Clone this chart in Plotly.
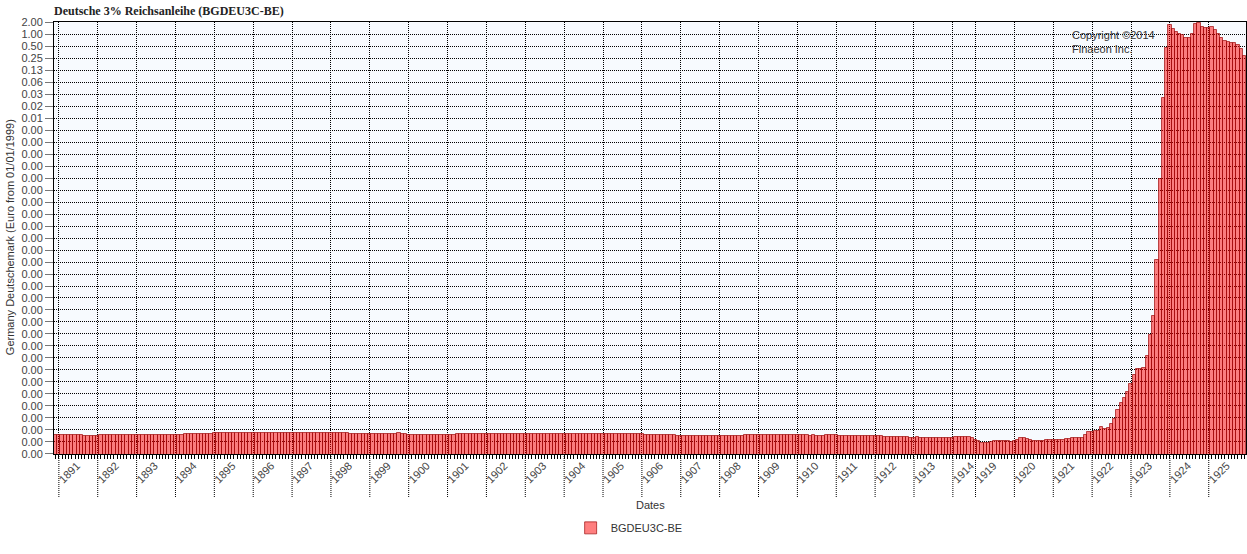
import math
import plotly.graph_objects as go

title = "Deutsche 3% Reichsanleihe (BGDEU3C-BE)"
series_name = "BGDEU3C-BE"
y_title = "Germany Deutschemark (Euro from 01/01/1999)"
x_title = "Dates"
copyright_text = "Copyright ©2014<br>Finaeon Inc."

# Monthly observations: Dec 1890 - Jul 1914, then Jan 1919 - Dec 1925 (no quotes during WWI)
periods = ([(1890, [12])]
           + [(y, list(range(1, 13))) for y in range(1891, 1914)]
           + [(1914, list(range(1, 8)))]
           + [(y, list(range(1, 13))) for y in range(1919, 1926)])
months = [f"{y}-{m:02d}" for y, ms in periods for m in ms]

price = [
    8.70e-11,  # 1890-12
    8.70e-11, 8.70e-11, 8.72e-11, 8.70e-11, 8.70e-11, 8.68e-11, 8.70e-11, 8.50e-11, 8.10e-11, 8.06e-11, 8.06e-11, 8.10e-11,  # 1891
    8.40e-11, 8.60e-11, 8.70e-11, 8.70e-11, 8.72e-11, 8.70e-11, 8.70e-11, 8.72e-11, 8.70e-11, 8.70e-11, 8.72e-11, 8.72e-11,  # 1892
    8.72e-11, 8.75e-11, 8.72e-11, 8.70e-11, 8.72e-11, 8.75e-11, 8.72e-11, 8.70e-11, 8.72e-11, 8.75e-11, 8.72e-11, 8.72e-11,  # 1893
    8.72e-11, 8.75e-11, 8.80e-11, 9.20e-11, 9.26e-11, 9.26e-11, 9.28e-11, 9.26e-11, 9.26e-11, 9.30e-11, 9.26e-11, 9.40e-11,  # 1894
    9.70e-11, 9.79e-11, 9.79e-11, 9.82e-11, 9.79e-11, 9.79e-11, 9.80e-11, 9.79e-11, 9.79e-11, 9.82e-11, 9.79e-11, 9.79e-11,  # 1895
    9.79e-11, 9.80e-11, 9.79e-11, 9.79e-11, 9.82e-11, 9.79e-11, 9.79e-11, 9.80e-11, 9.79e-11, 9.79e-11, 9.82e-11, 9.79e-11,  # 1896
    9.80e-11, 9.79e-11, 9.82e-11, 9.79e-11, 9.79e-11, 9.80e-11, 9.79e-11, 9.82e-11, 9.79e-11, 9.80e-11, 9.79e-11, 9.70e-11,  # 1897
    9.60e-11, 9.65e-11, 9.79e-11, 9.75e-11, 9.60e-11, 9.55e-11, 9.50e-11, 9.50e-11, 9.45e-11, 9.40e-11, 9.35e-11, 9.30e-11,  # 1898
    9.26e-11, 9.26e-11, 9.28e-11, 9.26e-11, 9.26e-11, 9.24e-11, 9.26e-11, 9.30e-11, 9.50e-11, 9.75e-11, 9.30e-11, 9.00e-11,  # 1899
    8.75e-11, 8.70e-11, 8.70e-11, 8.72e-11, 8.70e-11, 8.70e-11, 8.72e-11, 8.70e-11, 8.70e-11, 8.72e-11, 8.70e-11, 8.70e-11,  # 1900
    8.80e-11, 8.80e-11, 8.85e-11, 9.20e-11, 9.26e-11, 9.30e-11, 9.26e-11, 9.26e-11, 9.22e-11, 9.26e-11, 9.26e-11, 9.30e-11,  # 1901
    9.30e-11, 9.26e-11, 9.26e-11, 9.28e-11, 9.26e-11, 9.26e-11, 9.30e-11, 9.26e-11, 9.24e-11, 9.26e-11, 9.26e-11, 9.20e-11,  # 1902
    9.10e-11, 9.07e-11, 9.07e-11, 9.15e-11, 9.07e-11, 9.10e-11, 9.07e-11, 9.20e-11, 9.26e-11, 9.10e-11, 9.07e-11, 9.20e-11,  # 1903
    9.26e-11, 9.15e-11, 9.26e-11, 9.10e-11, 9.20e-11, 9.26e-11, 9.10e-11, 9.05e-11, 9.20e-11, 9.15e-11, 9.05e-11, 9.10e-11,  # 1904
    9.20e-11, 9.26e-11, 9.26e-11, 9.20e-11, 9.26e-11, 9.20e-11, 9.15e-11, 9.20e-11, 9.26e-11, 9.20e-11, 9.10e-11, 9.05e-11,  # 1905
    9.00e-11, 8.90e-11, 8.80e-11, 8.75e-11, 8.70e-11, 8.72e-11, 8.70e-11, 8.70e-11, 8.65e-11, 8.70e-11, 8.60e-11, 8.40e-11,  # 1906
    8.10e-11, 8.06e-11, 8.06e-11, 8.06e-11, 8.10e-11, 8.06e-11, 8.06e-11, 8.04e-11, 8.06e-11, 8.06e-11, 8.02e-11, 8.00e-11,  # 1907
    8.00e-11, 8.02e-11, 8.00e-11, 8.04e-11, 8.06e-11, 8.06e-11, 8.10e-11, 8.30e-11, 8.60e-11, 8.70e-11, 8.70e-11, 8.72e-11,  # 1908
    8.70e-11, 8.72e-11, 8.70e-11, 8.75e-11, 8.70e-11, 8.60e-11, 8.55e-11, 8.60e-11, 8.50e-11, 8.55e-11, 8.50e-11, 8.52e-11,  # 1909
    8.52e-11, 8.55e-11, 8.60e-11, 8.52e-11, 8.45e-11, 8.52e-11, 8.45e-11, 8.40e-11, 8.45e-11, 8.50e-11, 8.70e-11, 8.80e-11,  # 1910
    8.60e-11, 8.30e-11, 8.23e-11, 8.23e-11, 8.25e-11, 8.23e-11, 8.23e-11, 8.20e-11, 8.23e-11, 8.23e-11, 8.20e-11, 8.23e-11,  # 1911
    8.23e-11, 8.25e-11, 8.10e-11, 7.70e-11, 7.68e-11, 7.68e-11, 7.65e-11, 7.68e-11, 7.68e-11, 7.68e-11, 7.60e-11, 7.50e-11,  # 1912
    7.50e-11, 7.60e-11, 7.40e-11, 7.22e-11, 7.22e-11, 7.25e-11, 7.22e-11, 7.22e-11, 7.20e-11, 7.22e-11, 7.25e-11, 7.30e-11,  # 1913
    7.50e-11, 7.60e-11, 7.70e-11, 7.65e-11, 7.60e-11, 7.60e-11, 7.50e-11,  # 1914 (Jan-Jul)
    6.55e-11, 6.00e-11, 5.62e-11, 5.55e-11, 5.60e-11, 5.75e-11, 6.00e-11, 6.15e-11, 6.15e-11, 6.15e-11, 6.05e-11, 5.95e-11,  # 1919
    6.00e-11, 6.70e-11, 7.22e-11, 7.25e-11, 7.00e-11, 6.60e-11, 6.20e-11, 6.15e-11, 6.15e-11, 6.30e-11, 6.55e-11, 6.55e-11,  # 1920
    6.60e-11, 6.68e-11, 6.70e-11, 6.68e-11, 6.80e-11, 6.90e-11, 7.30e-11, 7.47e-11, 7.47e-11, 7.50e-11, 8.50e-11, 1.02e-10,  # 1921
    1.056e-10, 1.086e-10, 1.124e-10, 1.413e-10, 1.248e-10, 1.292e-10, 1.646e-10, 2.20e-10, 3.78e-10, 5.50e-10, 7.40e-10, 1.05e-9,  # 1922
    1.62e-9, 2.82e-9, 3.99e-9, 3.99e-9, 4.13e-9, 8.56e-9, 2.78e-8, 8.43e-8, 2.19e-6, 2.28e-4, 2.54e-2, 0.435,  # 1923
    1.682, 1.301, 1.110, 1.014, 0.920, 0.812, 0.785, 1.000, 1.741, 1.866, 1.484, 1.444,  # 1924
    1.444, 1.495, 1.274, 1.000, 0.785, 0.683, 0.624, 0.599, 0.582, 0.518, 0.420, 0.287,  # 1925
]

y_tick_values = [2.0 ** k for k in range(1, -36, -1)]
y_tick_labels = ["2.00", "1.00", "0.50", "0.25", "0.13", "0.06", "0.03", "0.02", "0.01"] + ["0.00"] * 28

n = len(months)
idx = list(range(n))
year_ticks = [i for i, m in enumerate(months) if m.endswith("-01")]
year_labels = [months[i][:4] for i in year_ticks]

fig = go.Figure()
fig.add_trace(go.Bar(
    x=idx, y=price, width=1, name=series_name,
    marker=dict(color="rgba(255,0,0,0.5)", line=dict(color="rgba(150,0,0,0.65)", width=1)),
    hovertext=months,
))

grid_dash = "1px,1px"
font_family = "Liberation Sans, Arial, sans-serif"

shapes = [dict(type="line", xref="x", yref="paper", x0=i, x1=i, y0=0, y1=-0.0995,
               line=dict(color="black", width=1, dash=grid_dash), layer="below")
          for i in year_ticks]

fig.update_layout(
    width=1247, height=554, autosize=False,
    margin=dict(l=54, r=1, t=22, b=100, autoexpand=False),
    paper_bgcolor="white", plot_bgcolor="#F7FAFE",
    font=dict(family=font_family, size=11, color="#333"),
    bargap=0,
    showlegend=True,
    title=dict(text=f"<b>{title}</b>", x=0, xref="paper", xanchor="left",
               y=1 - 11 / 554, yref="container", yanchor="middle",
               font=dict(family="Liberation Serif, Times New Roman, serif", size=12, color="#222")),
    legend=dict(orientation="h", x=0.4825, xanchor="center", y=-0.171, yanchor="middle",
                font=dict(size=11, color="#333"), bgcolor="rgba(0,0,0,0)"),
    xaxis=dict(
        automargin=False,
        range=[-0.5, n - 0.5], tickmode="array", tickvals=year_ticks, ticktext=year_labels,
        tickangle=-45, ticklabelshift=18, ticklabelstandoff=-4,
        showgrid=True, gridcolor="black", gridwidth=1, griddash=grid_dash,
        ticks="outside", ticklen=4, tickcolor="black",
        minor=dict(tickmode="array", tickvals=idx, ticks="outside", ticklen=4, tickcolor="black", showgrid=False),
        showline=True, linecolor="black", linewidth=1, mirror=True, zeroline=False,
        tickfont=dict(size=11, color="#444"),
    ),
    yaxis=dict(
        automargin=False,
        type="log",
        range=[math.log10(2.0 ** -35) - 0.0005, math.log10(2.0) + 0.0005],
        tickmode="array", tickvals=y_tick_values, ticktext=y_tick_labels,
        showgrid=True, gridcolor="black", gridwidth=1, griddash=grid_dash,
        ticks="outside", ticklen=8, tickcolor="#777",
        showline=True, linecolor="black", linewidth=1, mirror=True, zeroline=False,
        tickfont=dict(size=11, color="#444"),
    ),
    shapes=shapes,
    annotations=[
        dict(text=x_title, x=0.5, xref="paper", y=-0.118, yref="paper", showarrow=False,
             xanchor="center", yanchor="middle", font=dict(size=11, color="#333")),
        dict(text=y_title, x=-0.0369, xref="paper", y=0.502, yref="paper", showarrow=False,
             textangle=-90, xanchor="center", yanchor="middle", font=dict(size=11, color="#333")),
        dict(text=copyright_text, x=0.852, xref="paper", y=0.988, yref="paper", showarrow=False,
             xanchor="left", yanchor="top", align="left", font=dict(size=11, color="#333")),
    ],
)

fig.write_html(
    "out.html",
    config={"responsive": False, "displayModeBar": False},
    post_script="document.body.style.margin='0px';document.body.style.overflow='hidden';",
)
